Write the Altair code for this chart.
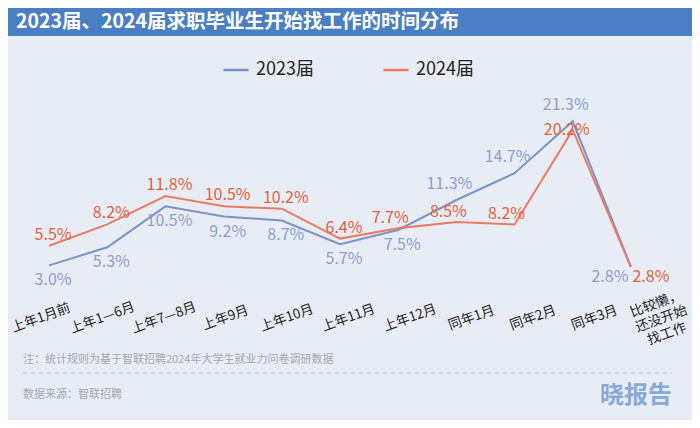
import altair as alt
import pandas as pd

# ---------------- data ----------------
categories = ["上年1月前", "上年1—6月", "上年7—8月", "上年9月", "上年10月", "上年11月",
              "上年12月", "同年1月", "同年2月", "同年3月", "比较懒，\n还没开始\n找工作"]
series_names = ["2023届", "2024届"]
values_2023 = [3.0, 5.3, 10.5, 9.2, 8.7, 5.7, 7.5, 11.3, 14.7, 21.3, 2.8]
values_2024 = [5.5, 8.2, 11.8, 10.5, 10.2, 6.4, 7.7, 8.5, 8.2, 20.2, 2.8]

title_text = "2023届、2024届求职毕业生开始找工作的时间分布"
note_text = "注：统计规则为基于智联招聘2024年大学生就业力问卷调研数据"
source_text = "数据来源：智联招聘"
logo_text = "晓报告"

FONT = "Noto Sans CJK SC"
BLUE_LINE = "#7893c8"
ORANGE_LINE = "#ee7862"
BLUE_TXT = "#8aa0cc"
ORANGE_TXT = "#e35f3b"
BG = "#e8edf5"

rows = []
for s, vals in zip(series_names, [values_2023, values_2024]):
    for c, v in zip(categories, vals):
        rows.append({"category": c, "series": s, "value": v, "label": f"{v:.1f}%"})
df = pd.DataFrame(rows)

X = alt.X("category:N", sort=categories,
          scale=alt.Scale(type="point", domain=categories, padding=0.5),
          axis=alt.Axis(title=None, labels=False, ticks=False, grid=False,
                        domainColor="#555555", domainWidth=2.5))
XN = alt.X("category:N", sort=categories,
           scale=alt.Scale(type="point", domain=categories, padding=0.5), axis=None)
Y = alt.Y("value:Q", scale=alt.Scale(domain=[0, 24]), axis=None)

base = alt.Chart(df)

lines = base.mark_line(strokeWidth=2).encode(
    x=X, y=Y,
    color=alt.Color("series:N", sort=series_names,
                    scale=alt.Scale(domain=series_names, range=[BLUE_LINE, ORANGE_LINE]),
                    legend=alt.Legend(orient="none", legendX=202, legendY=-44,
                                      direction="horizontal", title=None,
                                      symbolType="stroke", symbolSize=625,
                                      symbolStrokeWidth=2.5, labelFontSize=18,
                                      labelColor="#222222", labelFont=FONT,
                                      columnPadding=64, labelOffset=6, padding=0)),
    detail="series:N",
)


def value_labels(series, cats, dx, dy, color):
    return base.transform_filter(
        alt.FieldEqualPredicate(field="series", equal=series)
    ).transform_filter(
        alt.FieldOneOfPredicate(field="category", oneOf=cats)
    ).mark_text(dx=dx, dy=dy, fontSize=16, font=FONT, color=color).encode(
        x=XN, y=Y, text="label:N"
    )


lab_layers = [
    value_labels("2023届", categories[:7], 4, 15, BLUE_TXT),
    value_labels("2023届", categories[7:10], -7, -16, BLUE_TXT),
    value_labels("2023届", categories[10:], -21, 10, BLUE_TXT),
    value_labels("2024届", categories[:6], 4, -11, ORANGE_TXT),
    value_labels("2024届", categories[6:9], -8, -10, ORANGE_TXT),
    value_labels("2024届", categories[9:10], -6, 0, ORANGE_TXT),
    value_labels("2024届", categories[10:], 20, 10, ORANGE_TXT),
]

XT = alt.X("category:N", sort=categories,
           scale=alt.Scale(type="point", domain=categories, range=[21, 636], padding=0),
           axis=None)
tick_base = alt.Chart(pd.DataFrame({"category": categories}))
tick_style = dict(angle=340, align="center", baseline="middle", fontSize=13.5, font=FONT,
                  color="#222222", lineBreak="\n", lineHeight=16)
ticks_single = tick_base.transform_filter(
    alt.FieldOneOfPredicate(field="category", oneOf=categories[:10])
).mark_text(**tick_style).encode(x=XT, y=alt.value(218), text="category:N")
ticks_multi = tick_base.transform_filter(
    alt.FieldOneOfPredicate(field="category", oneOf=categories[10:])
).mark_text(**tick_style).encode(x=XT, y=alt.value(204), text="category:N")
tick_labels = alt.layer(ticks_single, ticks_multi)

one = lambda t: alt.Chart(pd.DataFrame({"t": [t]}))

title_bar = one(title_text).mark_rect(color="#4a7fc3").encode(
    x=alt.value(-12), x2=alt.value(672), y=alt.value(-92), y2=alt.value(-64))
title = one(title_text).mark_text(align="left", baseline="middle", fontSize=19.5,
                                  fontWeight="bold", font=FONT, color="white").encode(
    x=alt.value(-4), y=alt.value(-78), text="t:N")
note = one(note_text).mark_text(align="left", baseline="middle", fontSize=11,
                                font=FONT, color="#a3a7ae").encode(
    x=alt.value(3), y=alt.value(260), text="t:N")
dash = one(note_text).mark_rule(strokeDash=[4, 4], color="#bcc0c8", strokeWidth=1).encode(
    x=alt.value(3), x2=alt.value(652), y=alt.value(273))
source = one(source_text).mark_text(align="left", baseline="middle", fontSize=11,
                                    font=FONT, color="#a3a7ae").encode(
    x=alt.value(3), y=alt.value(295), text="t:N")
logo = one(logo_text).mark_text(align="right", baseline="middle", fontSize=24,
                                fontWeight="bold", font=FONT, color="#88a8d8").encode(
    x=alt.value(652), y=alt.value(296), text="t:N")

main = alt.layer(title_bar, title, note, dash, source, logo, lines, *lab_layers)

chart = alt.layer(main, tick_labels).resolve_scale(x="independent").properties(
    width=640, height=189,
    padding={"left": 12, "top": 92, "right": 32, "bottom": 131},
    autosize=alt.AutoSizeParams(type="none"),
).configure(background=BG, font=FONT).configure_view(stroke=None)

chart.save("out.html", embed_options={"renderer": "svg", "actions": False})
